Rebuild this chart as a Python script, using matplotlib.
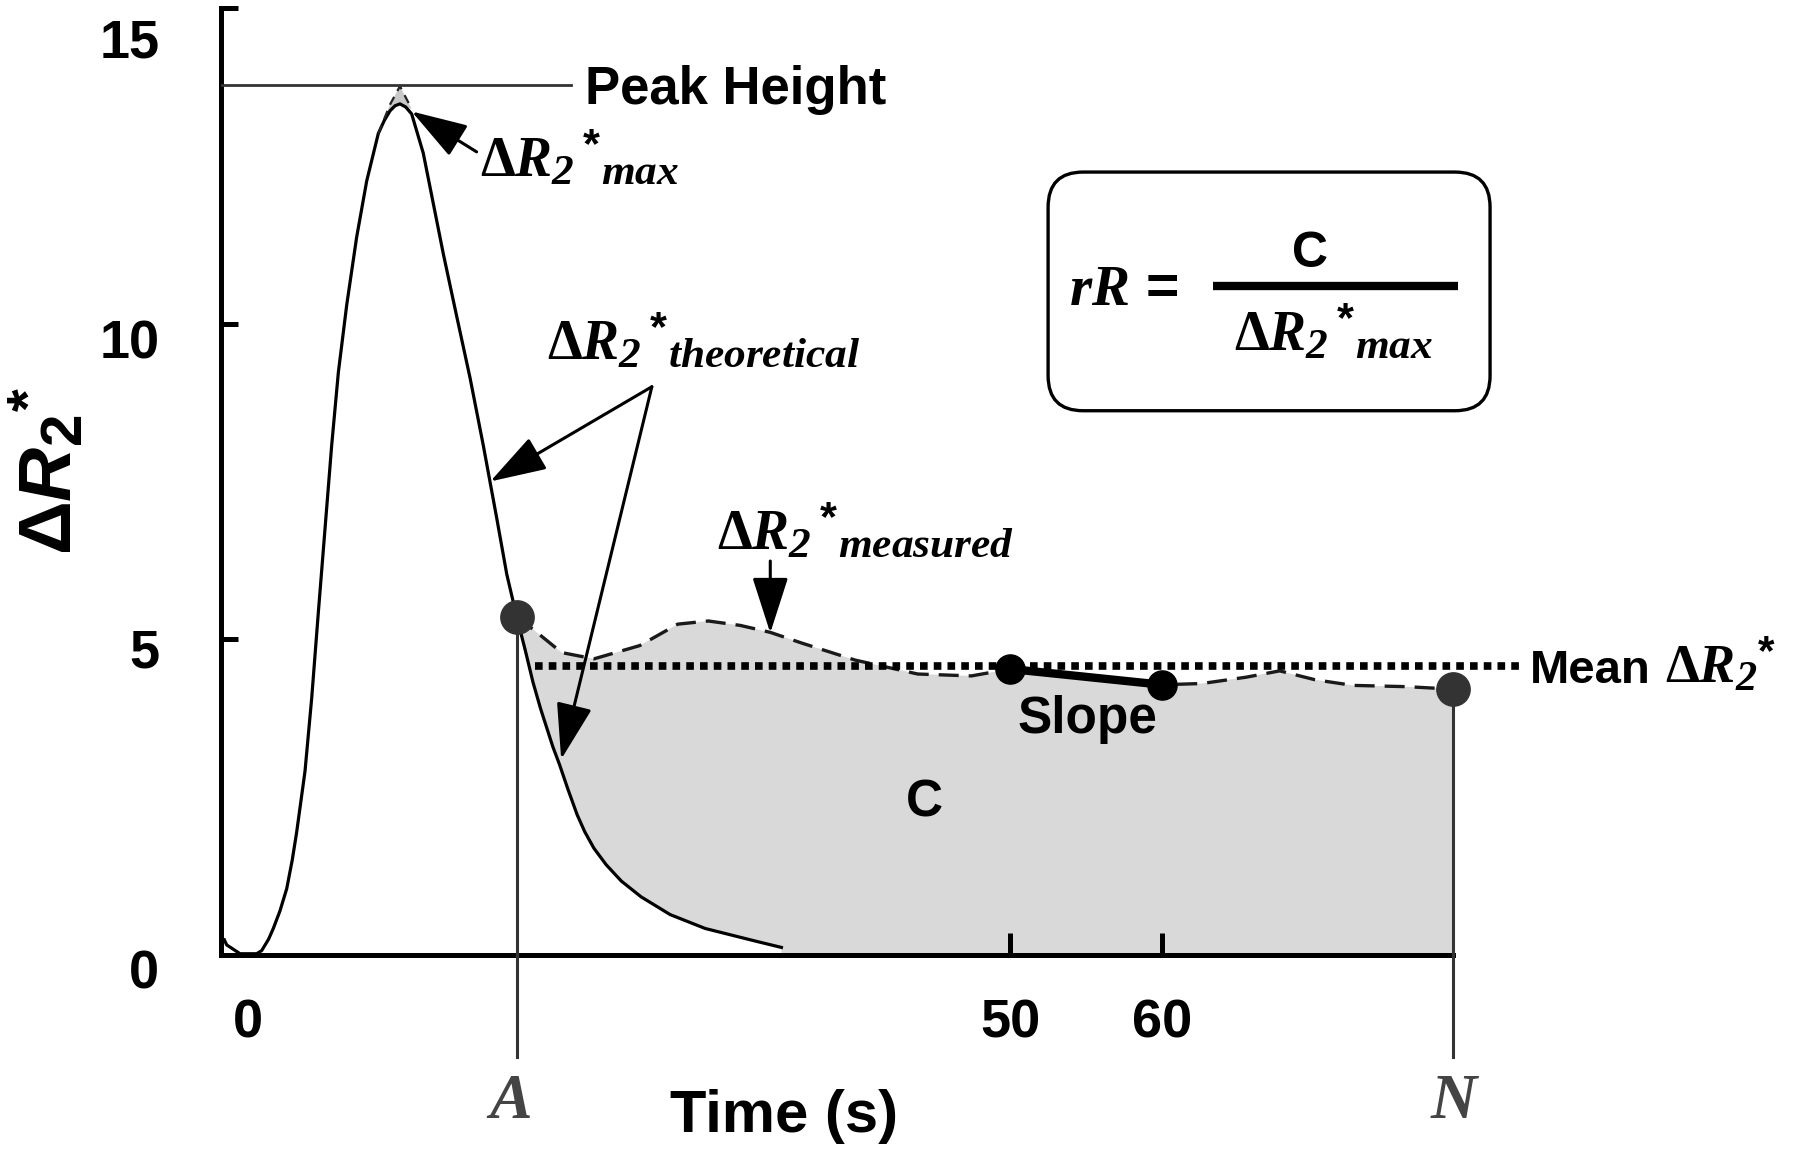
import numpy as np
import matplotlib
matplotlib.use('Agg')

from matplotlib import pyplot as plt
import matplotlib._mathtext as mathtext_internals
from matplotlib.patches import FancyBboxPatch
from matplotlib.transforms import ScaledTranslation

plt.rcParams['font.family'] = ['Liberation Sans', 'DejaVu Sans']
plt.rcParams['font.weight'] = 'bold'
plt.rcParams['axes.labelweight'] = 'bold'
# serif pieces of the formulas go through mathtext
plt.rcParams['mathtext.fontset'] = 'custom'
plt.rcParams['mathtext.rm'] = 'Liberation Serif:bold'
plt.rcParams['mathtext.it'] = 'Liberation Serif:italic:bold'
plt.rcParams['mathtext.sf'] = 'Liberation Serif:italic:bold'
plt.rcParams['mathtext.cal'] = 'Liberation Serif:italic'
plt.rcParams['mathtext.bf'] = 'Liberation Sans:bold'
plt.rcParams['mathtext.tt'] = 'Liberation Sans:italic:bold'
# the original uses rather large sub/superscripts
mathtext_internals.SHRINK_FACTOR = 0.78

# --- data -----------------------------------------------------------------
# theoretical (first pass) curve
theo_t = [-1.55, -1.4, -0.52, 0.57, 0.9, 1.35, 1.66, 2.1, 2.54, 2.9, 3.19, 3.74,
          4.18, 4.61, 5.05, 5.49, 5.93, 6.48, 7.13, 7.79, 8.55, 8.95, 9.32, 9.65,
          9.97, 10.35, 10.74, 11.50, 12.16, 12.82, 13.69, 14.57, 15.44, 16.32,
          16.98, 17.63, 18.2, 18.70, 19.2, 19.6, 20.0, 20.45, 21.0, 21.6, 22.1,
          22.7, 23.5, 24.5, 25.8, 27.7, 30.0, 33.3, 35.0]
theo_y = [0.24, 0.16, 0.02, 0.02, 0.07, 0.25, 0.42, 0.70, 1.05, 1.50, 1.94, 2.91,
          4.07, 5.41, 6.74, 8.07, 9.23, 10.30, 11.37, 12.26, 13.01, 13.22, 13.37, 13.45,
          13.48, 13.43, 13.32, 12.70, 11.90, 11.10, 10.12, 9.14, 8.07, 6.92,
          6.03, 5.36, 4.82, 4.32, 3.90, 3.60, 3.30, 3.01, 2.62, 2.22, 1.95,
          1.69, 1.43, 1.17, 0.92, 0.64, 0.42, 0.22, 0.12]

# measured curve: small excess at the peak, then from A to N
peak_t = [8.55, 9.32, 9.97, 10.74]
peak_y = [13.01, 13.47, 13.76, 13.40]
meas_t = [17.63, 18.95, 20.58, 22.7, 25.7, 28.2, 30.2, 32.3, 34.27, 36.34,
          39.85, 43.95, 47.47, 50, 55, 60, 62.6, 65.5, 67.7, 70.0, 72.5, 76.0, 79.1]
meas_y = [5.36, 5.11, 4.79, 4.69, 4.90, 5.24, 5.29, 5.22, 5.11, 4.94,
          4.67, 4.45, 4.42, 4.53, 4.42, 4.28, 4.30, 4.40, 4.50, 4.36, 4.27, 4.25, 4.21]

t_A, y_A = 17.63, 5.36
t_N, y_N = 79.1, 4.21
peak_height = 13.78
mean_val = 4.58
mean_t = [18.8, 83.5]
slope_t = [50, 60]
slope_y = [4.53, 4.28]

x_ticks = [0, 50, 60]
x_tick_labels = ['0', '50', '60']
y_ticks = [0, 5, 10, 15]
y_tick_labels = ['0', '5', '10', '15']

# --- layout ---------------------------------------------------------------
FIG_W, FIG_H = 1800, 1157
T0_PX, PX_PER_S = 248, 15.24        # pixel column of t=0, pixels per second
Y0_PX, PX_PER_U = 955, 63.14        # pixel row of y=0, pixels per unit
XMIN, XMAX = -1.8, 101.8
YMIN, YMAX = 0, 15

fig = plt.figure(figsize=(FIG_W / 100, FIG_H / 100), dpi=100)
ax = fig.add_axes([(T0_PX + XMIN * PX_PER_S) / FIG_W,
                   (FIG_H - Y0_PX) / FIG_H,
                   (XMAX - XMIN) * PX_PER_S / FIG_W,
                   (YMAX - YMIN) * PX_PER_U / FIG_H])
ax.set_xlim(XMIN, XMAX)
ax.set_ylim(YMIN, YMAX)
aspect = PX_PER_S / PX_PER_U

for s in ['top', 'right']:
    ax.spines[s].set_visible(False)
for s in ['left', 'bottom']:
    ax.spines[s].set_linewidth(3.6)
ax.spines['bottom'].set_bounds(XMIN, t_N)

ax.set_xticks(x_ticks)
ax.set_xticklabels(x_tick_labels)
ax.set_yticks(y_ticks)
ax.set_yticklabels(y_tick_labels)
ax.tick_params(axis='x', direction='in', length=16, width=3.6, pad=31, labelsize=39)
ax.tick_params(axis='y', direction='in', length=12, width=3.6, pad=44, labelsize=39)
ax.xaxis.get_major_ticks()[0].tick1line.set_visible(False)
# y labels in the original sit a little below their ticks
for lab, drop in zip(ax.get_yticklabels(), [10, 6, 11, 22]):
    lab.set_transform(lab.get_transform() +
                      ScaledTranslation(0, -drop / 72, fig.dpi_scale_trans))

# --- shaded areas ---------------------------------------------------------
tip_t = peak_t + [t for t in theo_t[::-1] if peak_t[0] < t < peak_t[-1]]
tip_y = peak_y + [y for t, y in zip(theo_t[::-1], theo_y[::-1]) if peak_t[0] < t < peak_t[-1]]
ax.fill(tip_t, tip_y, color='#c8c8c8', lw=0, zorder=1)

back_t = [t for t in theo_t[::-1] if t > t_A]
back_y = [y for t, y in zip(theo_t[::-1], theo_y[::-1]) if t > t_A]
c_t = meas_t + [t_N, back_t[0]] + back_t
c_y = meas_y + [0, 0] + back_y
ax.fill(c_t, c_y, color='#d9d9d9', lw=0, zorder=1)

# --- curves ---------------------------------------------------------------
ax.plot(theo_t, theo_y, color='black', lw=2.3, zorder=3, clip_on=False)
ax.plot(peak_t, peak_y, color='#222222', lw=1.6, dashes=(4, 3), zorder=3)
ax.plot(meas_t, meas_y, color='#1a1a1a', lw=2.4, dashes=(6, 3), zorder=3)
ax.plot(mean_t, [mean_val, mean_val], color='black', lw=5.5,
        linestyle=(0, (1, 0.8)), dash_capstyle='butt', zorder=3, clip_on=False)
ax.plot([XMIN, 21.2], [peak_height, peak_height], color='#333333', lw=2, zorder=3)

for t, y in [(t_A, y_A), (t_N, y_N)]:
    ax.plot([t, t], [y, -1.62], color='#333333', lw=2.2, zorder=4, clip_on=False)
    ax.plot(t, y, 'o', color='#333333', ms=24, zorder=5, clip_on=False)

ax.plot(slope_t, slope_y, 'o-', color='black', lw=6, ms=21, zorder=5)

# --- arrows ---------------------------------------------------------------
arrow = dict(arrowstyle='-|>,head_length=1.4,head_width=0.45', lw=2.2,
             color='black', shrinkA=0, shrinkB=0, mutation_scale=25)
ax.annotate('', xy=(10.74, 13.36), xytext=(15.0, 12.72), arrowprops=arrow, zorder=6)
ax.annotate('', xy=(15.9, 7.5), xytext=(26.5, 9.0), arrowprops=arrow, zorder=6)
ax.annotate('', xy=(20.55, 3.1), xytext=(26.5, 9.0), arrowprops=arrow, zorder=6)
ax.annotate('', xy=(34.27, 5.1), xytext=(34.27, 6.24), arrowprops=arrow, zorder=6)

# --- labels ---------------------------------------------------------------
d_r2 = r'\Delta R_{\mathsf{2}}\,{}^{\mathbf{*}}'
ax.text(15.2, 12.33, '$' + d_r2 + r'{}_{\mathcal{max}}$', fontsize=40, va='baseline')
ax.text(19.6, 9.43, '$' + d_r2 + r'{}_{\mathcal{theoretical}}$', fontsize=40, va='baseline')
ax.text(30.8, 6.43, '$' + d_r2 + r'{}_{\mathcal{measured}}$', fontsize=40, va='baseline')
ax.text(84.1, 4.31, 'Mean', fontsize=34, va='baseline', clip_on=False)
ax.text(93.0, 4.31, r'$\Delta R_{\mathsf{2}}{}^{\mathbf{*}}$', fontsize=39,
        va='baseline', clip_on=False)
ax.text(22.1, peak_height, 'Peak Height', fontsize=38, va='center_baseline')
ax.text(55.1, 3.82, 'Slope', fontsize=37, ha='center', va='center_baseline')
ax.text(44.4, 2.49, 'C', fontsize=37, ha='center', va='center_baseline')

for t, s in [(t_A - 0.4, 'A'), (t_N, 'N')]:
    ax.text(t, -2.24, s, family='Liberation Serif', style='italic', weight='bold',
            fontsize=46, color='#444444', ha='center', va='center_baseline', clip_on=False)

ax.set_xlabel('Time (s)', fontsize=43, fontweight='bold', va='center')
ax.xaxis.set_label_coords((35.2 - XMIN) / (XMAX - XMIN), -2.55 / (YMAX - YMIN))
ax.set_ylabel(r'$\mathbf{\Delta}\mathtt{R}_{\mathbf{2}}{}^{\mathbf{*}}$', fontsize=54,
              va='center', ha='center', rotation_mode='default')
ax.yaxis.set_label_coords((48 - (T0_PX + XMIN * PX_PER_S)) / ((XMAX - XMIN) * PX_PER_S),
                          7.67 / (YMAX - YMIN))

# --- formula box ----------------------------------------------------------
box = FancyBboxPatch((52.5, 8.62), 29.0, 3.78, boxstyle='round,pad=0,rounding_size=2.3',
                     mutation_aspect=aspect, fc='white', ec='black', lw=2.4, zorder=2)
ax.add_patch(box)
ax.text(53.9, 10.29, r'$rR$ =', fontsize=41, va='baseline', zorder=3)
ax.plot([63.3, 79.4], [10.6, 10.6], color='black', lw=6, solid_capstyle='butt', zorder=3)
ax.text(69.7, 10.9, 'C', fontsize=36, ha='center', va='baseline', zorder=3)
ax.text(71.25, 9.58, '$' + d_r2 + r'{}_{\mathcal{max}}$', fontsize=40,
        ha='center', va='baseline', zorder=3)

fig.savefig('out.png', dpi=100)
